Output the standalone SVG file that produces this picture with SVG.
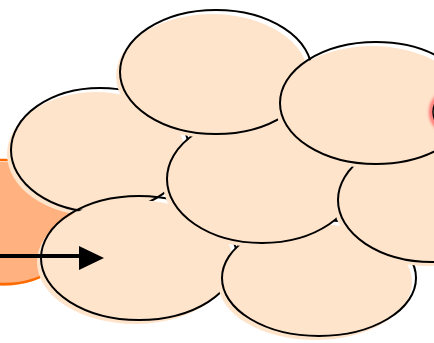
<svg xmlns="http://www.w3.org/2000/svg" width="434" height="343" viewBox="0 0 434 343">
  <defs>
    <style>
      .fill { fill: #FFE4CC; stroke: none; }
      .edge { fill: none; stroke: #000; stroke-width: 2; }
      .ofill { fill: #FFB27F; stroke: none; }
      .oedge { fill: none; stroke: #FF6A00; stroke-width: 2.5; }
    </style>
    <filter id="soft" x="-50%" y="-50%" width="200%" height="200%">
      <feGaussianBlur stdDeviation="1.5"/>
    </filter>
  </defs>
  <rect width="434" height="343" fill="#fff"/>

  <!-- orange cell, left edge -->
  <g id="cell-orange">
    <ellipse class="ofill" cx="3" cy="224" rx="75" ry="62"/>
    <ellipse class="oedge" cx="5" cy="222" rx="75" ry="62"/>
  </g>

  <g id="cell-left">
    <ellipse class="fill" cx="96" cy="154" rx="89" ry="62"/>
    <ellipse class="edge" cx="100" cy="150" rx="89" ry="62"/>
  </g>

  <g id="cell-bottom-left">
    <ellipse class="fill" cx="135" cy="262" rx="98" ry="62"/>
    <ellipse class="edge" cx="139" cy="258" rx="98" ry="62"/>
  </g>

  <g id="cell-bottom-right">
    <ellipse class="fill" cx="315" cy="282" rx="97" ry="58"/>
    <ellipse class="edge" cx="319" cy="278" rx="97" ry="58"/>
  </g>

  <g id="cell-middle">
    <ellipse class="fill" cx="258" cy="183" rx="95" ry="64"/>
    <ellipse class="edge" cx="262" cy="179" rx="95" ry="64"/>
  </g>

  <g id="cell-top">
    <ellipse class="fill" cx="212" cy="76" rx="96" ry="62"/>
    <ellipse class="edge" cx="216" cy="72" rx="96" ry="62"/>
  </g>

  <g id="cell-right-middle">
    <ellipse class="fill" cx="428" cy="204" rx="94" ry="62"/>
    <ellipse class="edge" cx="432" cy="200" rx="94" ry="62"/>
  </g>

  <g id="cell-right-top">
    <ellipse class="fill" cx="372" cy="107" rx="96" ry="61"/>
    <ellipse class="edge" cx="376" cy="103" rx="96" ry="61"/>
  </g>

  <!-- red spot on the right edge -->
  <g id="spot-red">
    <ellipse cx="452" cy="112" rx="21" ry="21" fill="none" stroke="#FF6F6F" stroke-width="4" filter="url(#soft)"/>
    <ellipse cx="452" cy="112" rx="19" ry="19" fill="none" stroke="#000" stroke-width="1.5"/>
  </g>

  <g id="connectors">
    <line x1="0" y1="256" x2="82" y2="256" stroke="#000" stroke-width="4"/>
    <polygon points="79,246 104,258 79,270" fill="#000"/>
  </g>
</svg>
